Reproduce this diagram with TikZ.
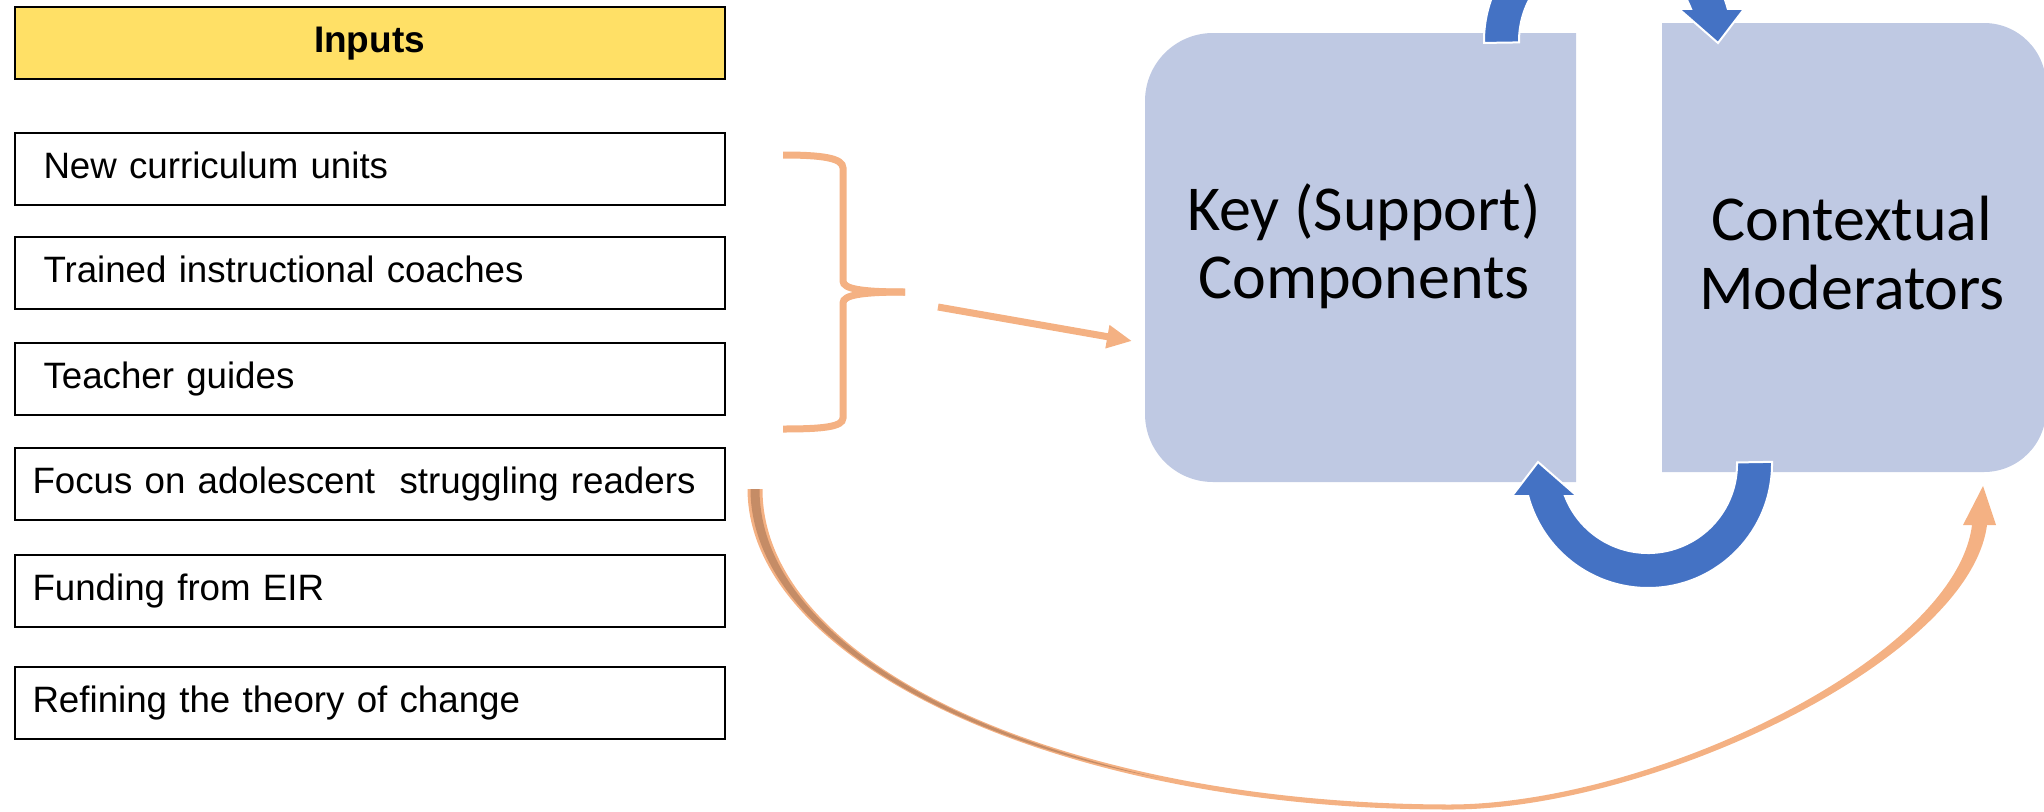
\documentclass[tikz,border=0pt]{standalone}
\usepackage{fontspec}
\setmainfont{Liberation Sans}
\newfontfamily\calibrilike{Carlito}
\usetikzlibrary{calc,arrows.meta}
\definecolor{inputyellow}{HTML}{FFE066}
\definecolor{boxblue}{HTML}{BFC9E3}
\definecolor{cycleblue}{HTML}{4472C4}
\definecolor{accentorange}{HTML}{F4B183}
\definecolor{backbrown}{HTML}{C58C66}
\begin{document}
\begin{tikzpicture}[x=1pt, y=-1pt,
  inbox/.style={draw=black, line width=2pt, minimum width=710pt, minimum height=72pt,
    inner ysep=0pt, text height=27pt, text depth=8pt, font=\fontsize{36.7}{44}\selectfont},
  indentA/.style={inner xsep=29pt, text width=652pt, align=left},
  indentB/.style={inner xsep=18pt, text width=674pt, align=left},
  panel/.style={minimum width=#1, minimum height=449pt, inner sep=0pt},
  bigtext/.style={font=\calibrilike\fontsize{64}{68}\selectfont, anchor=base, inner sep=0pt},
  cyclearrow/.style={fill=cycleblue, draw=white, line width=2pt, line join=miter},
  orangeline/.style={draw=accentorange, line width=7pt},
]
\useasboundingbox (0,0) rectangle (2044,811);
\clip (0,0) rectangle (2044,811);

% ---- inputs column ----
\node[inbox, fill=inputyellow, font=\bfseries\fontsize{37}{44}\selectfont] (inputs) at (369.5,42.5) {Inputs};
\node[inbox, indentA] (units)    at (369.5,168.5) {New curriculum units};
\node[inbox, indentA] (coaches)  at (369.5,273)   {Trained instructional coaches};
\node[inbox, indentA] (guides)   at (369.5,378.5) {Teacher guides};
\node[inbox, indentB] (focus)    at (369.5,483.5) {Focus on adolescent\ \ struggling readers};
\node[inbox, indentB] (funding)  at (369.5,591)   {Funding from EIR};
\node[inbox, indentB] (refining) at (369.5,703)   {Refining the theory of change};

% ---- the two panels ----
\node[panel=431pt] (key) at (1360.5,257.5) {};
\fill[boxblue] (1576,33) -- (1213,33) .. controls (1175.4,33) and (1145,63.4) .. (1145,101)
  -- (1145,414) .. controls (1145,451.6) and (1175.4,482) .. (1213,482) -- (1576,482) -- cycle;
\node[panel=384pt] (context) at (1854,247.5) {};
\fill[boxblue] (1662,23) -- (1984,23) .. controls (2018.2,23) and (2046,50.8) .. (2046,85)
  -- (2046,410) .. controls (2046,444.2) and (2018.2,472) .. (1984,472) -- (1662,472) -- cycle;

\node[bigtext] (keyA) at (1364,230) {Key (Support)};
\node[bigtext] (keyB) at (1364,298) {Components};
\node[bigtext] (ctxA) at (1852,240) {Contextual};
\node[bigtext] (ctxB) at (1852,309) {Moderators};

% ---- circular arrows between the panels ----
\coordinate (lowhub) at (1648,464);
\coordinate (highhub) at (1608,41);
\draw[cyclearrow] ($(lowhub)+(-1:124)$) arc[start angle=-1, end angle=165, radius=124]
  -- (1512,496) -- (1538,462) -- (1577,496)
  -- ($(lowhub)+(158.9:89)$) arc[start angle=158.9, end angle=-1, radius=89] -- cycle;
\draw[cyclearrow] ($(highhub)+(179.1:124)$) arc[start angle=179.1, end angle=345, radius=124]
  -- (1744,9) -- (1718,43) -- (1679,9)
  -- ($(highhub)+(338.9:89)$) arc[start angle=338.9, end angle=179.1, radius=89] -- cycle;

% ---- brace grouping the first inputs ----
\draw[orangeline] (783,155) .. controls (822,155) and (843,158) .. (843,168) -- (843,281)
  .. controls (843,289) and (862,292) .. (905,292);
\draw[orangeline] (905,292) .. controls (862,292) and (843,295) .. (843,303) -- (843,418)
  .. controls (843,427) and (822,429) .. (783,429);

\coordinate (braceTip) at (938,307);
\coordinate (keyEntry) at (1132,341);
\draw[orangeline, -{Triangle[length=25pt,width=22pt]}] (braceTip) -- (keyEntry);

% ---- long curved arrow from the inputs to the moderators ----
\fill[accentorange] (747.5,489) .. controls (748,665) and (1066,810) .. (1450,809.5)
  .. controls (1650,810) and (1968.9,660.9) .. (1987,525)
  -- (1996,525) -- (1983,486) -- (1963,525) -- (1972,525)
  .. controls (1955.1,659.1) and (1650,804) .. (1450,804.5)
  .. controls (1066,804) and (762,665) .. (762.5,489) -- cycle;
\fill[backbrown] (750.5,489) .. controls (750.5,617.5) and (920.1,730.8) .. (1159.6,778.1)
  .. controls (921.3,725) and (759.5,617.5) .. (759.5,489) -- cycle;
\end{tikzpicture}
\end{document}
